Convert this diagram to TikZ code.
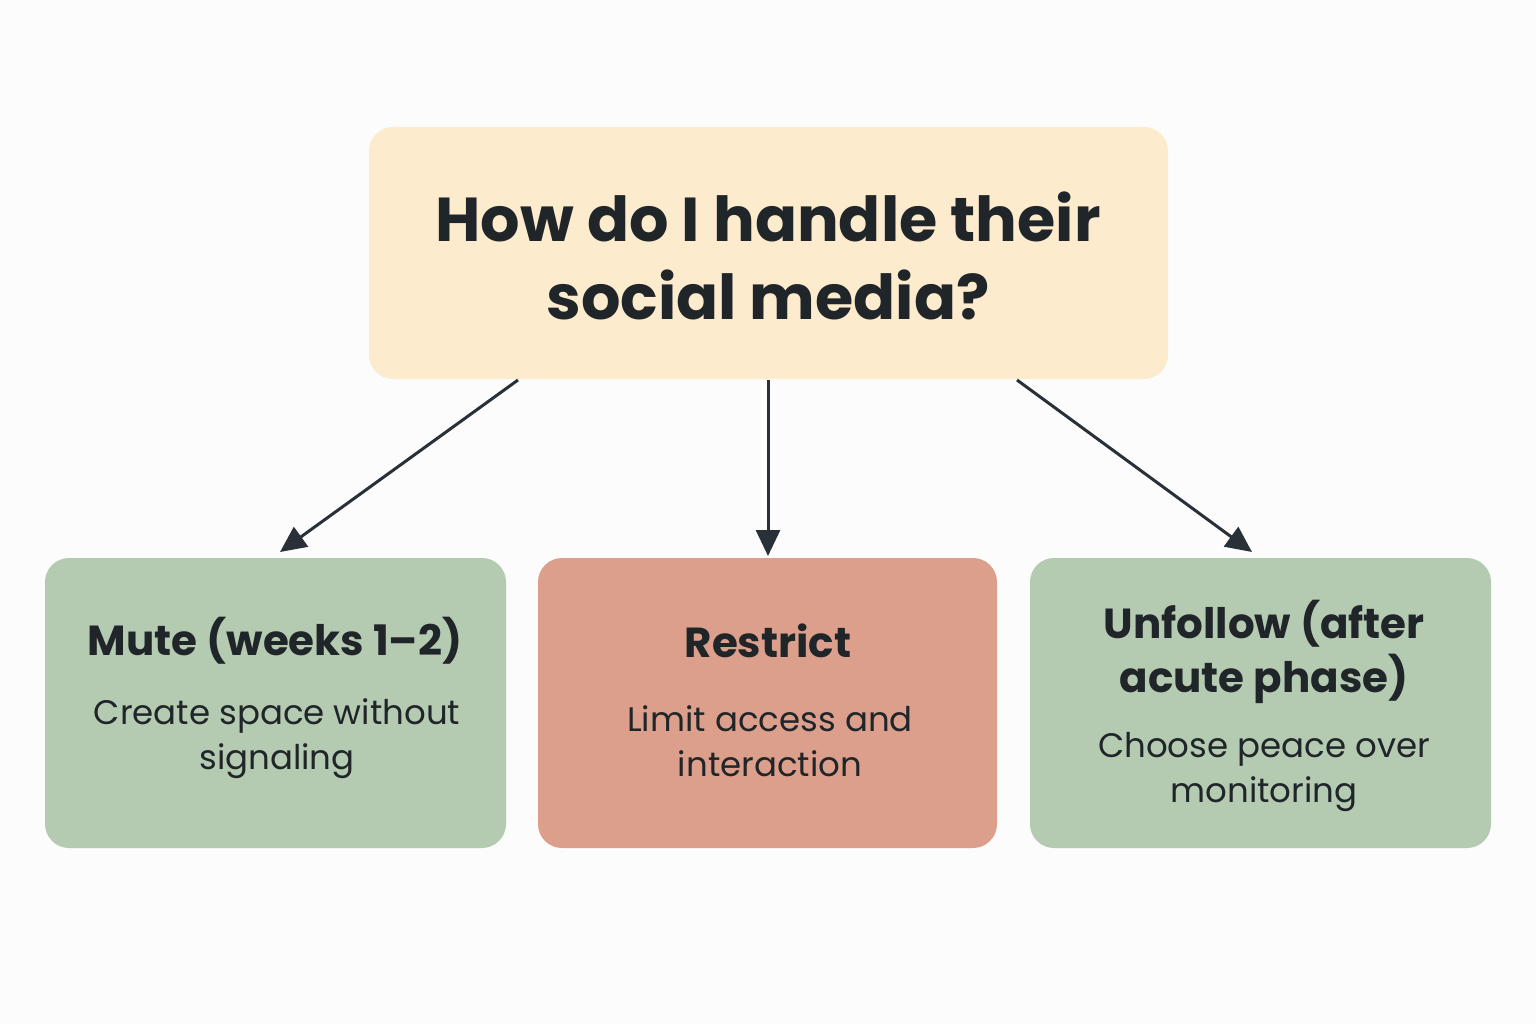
\documentclass[tikz,border=0pt]{standalone}
\usepackage{fontspec}
\setmainfont{Poppins}
\usetikzlibrary{arrows.meta}
\definecolor{cream}{HTML}{FCEBCD}
\definecolor{sage}{HTML}{B4CBB1}
\definecolor{clay}{HTML}{DC9F8C}
\definecolor{ink}{HTML}{1F2528}
\definecolor{arr}{HTML}{2A3038}
\begin{document}
\begin{tikzpicture}[x=1pt,y=-1pt,
  box/.style={rounded corners=24pt,draw=none},
  head/.style={font=\fontsize{42}{54}\selectfont\bfseries,text=ink,align=center,inner sep=0},
  body/.style={font=\fontsize{34}{45}\selectfont,text=ink,align=center,inner sep=0},
  con/.style={draw=arr,line width=3pt,-{Triangle[length=26pt,width=24pt]}}]
\fill[white!98!gray] (0,0) rectangle (1536,1024);
\useasboundingbox (0,0) rectangle (1536,1024);
\fill[box,cream] (369,127) rectangle (1168,379);
\fill[box,sage] (45,558) rectangle (506,848);
\fill[box,clay] (538,558) rectangle (997,848);
\fill[box,sage] (1030,558) rectangle (1491,848);
\node[font=\fontsize{62}{78}\selectfont\bfseries,text=ink,align=center,inner sep=0] (q) at (768,256) {How do I handle their\\social media?};
\node[head] (m) at (275,641) {Mute (weeks 1–2)};
\node[body] (mb) at (277,739) {Create space without\\signaling};
\node[head] (r) at (768,641) {Restrict};
\node[body] (rb) at (770,741) {Limit access and\\interaction};
\node[head] (u) at (1264,652) {Unfollow (after\\acute phase)};
\node[body] (ub) at (1264,772) {Choose peace over\\monitoring};
\coordinate (s1) at (518,380); \coordinate (e1) at (280,552);
\coordinate (s2) at (768,380); \coordinate (e2) at (768,556);
\coordinate (s3) at (1017,380); \coordinate (e3) at (1252,552);
\draw[con] (s1) -- (e1);
\draw[con] (s2) -- (e2);
\draw[con] (s3) -- (e3);
\end{tikzpicture}
\end{document}
